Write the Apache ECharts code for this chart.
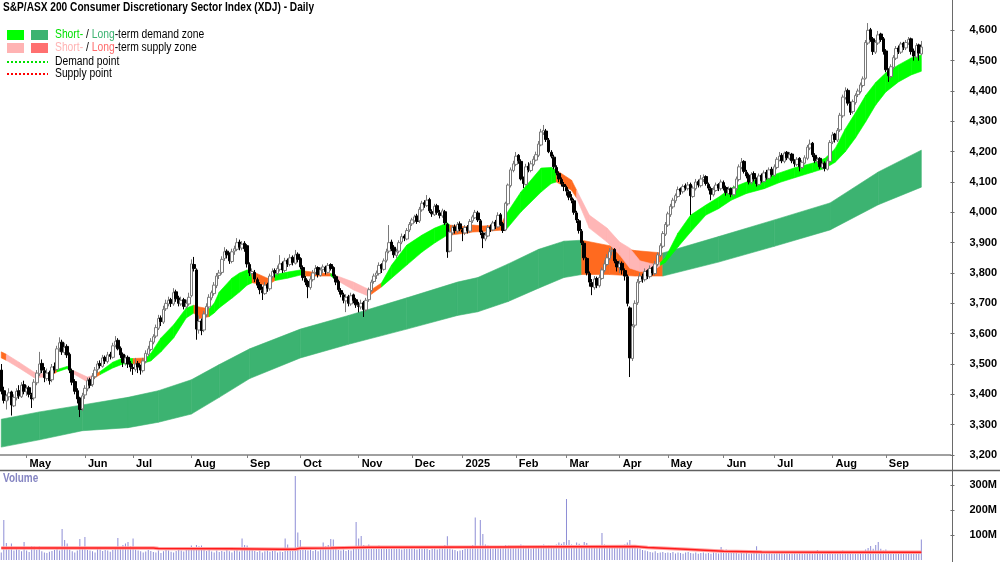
<!DOCTYPE html>
<html>
<head>
<meta charset="utf-8">
<title>XDJ - Daily</title>
<script src="https://cdn.jsdelivr.net/npm/echarts@6.0.0/dist/echarts.min.js"></script>
<style>
  html, body { margin: 0; padding: 0; background: #fff; }
  #chart { width: 1000px; height: 562px; }
</style>
</head>
<body>
<div id="chart"></div>
<script>
var FONT = '"Liberation Sans", Arial, sans-serif';

// trading calendar
var startDate = '2024-04-16', endDate = '2025-09-19';
var holidays = ['2024-04-25', '2024-06-10', '2024-12-25', '2024-12-26', '2025-01-01',
    '2025-01-27', '2025-04-18', '2025-04-21', '2025-04-25', '2025-06-09'];
var padDays = 11;
var monthNames = ['Jan', 'Feb', 'Mar', 'Apr', 'May', 'Jun', 'Jul', 'Aug', 'Sep', 'Oct', 'Nov', 'Dec'];

// tick labels
var priceTicks = [3200, 3300, 3400, 3500, 3600, 3700, 3800, 3900, 4000, 4100, 4200, 4300, 4400, 4500, 4600];
var volTicks = [100, 200, 300];

// daily prices, one row per month
var opens = [
    3480, 3412, 3378, 3392, 3408, 3362, 3388, 3412, 3392, 3432,
    3408, 3422, 3398, 3388, 3438, 3468, 3502, 3478, 3452, 3472, 3448, 3492, 3482, 3552, 3572, 3538, 3558, 3532, 3478, 3442, 3412, 3388, 3352,
    3398, 3418, 3448, 3432, 3458, 3482, 3502, 3492, 3522, 3508, 3532, 3522, 3562, 3578, 3552, 3532, 3502, 3522, 3502,
    3488, 3482, 3502, 3492, 3478, 3508, 3532, 3548, 3572, 3592, 3618, 3652, 3638, 3682, 3698, 3712, 3698, 3738, 3718, 3698, 3712, 3688, 3698,
    3725, 3828, 3810, 3612, 3642, 3612, 3662, 3688, 3718, 3732, 3758, 3792, 3802, 3848, 3872, 3862, 3838, 3872, 3878, 3902, 3882, 3898,
    3890, 3828, 3798, 3802, 3778, 3762, 3742, 3732, 3762, 3748, 3788, 3808, 3798, 3812, 3832, 3808, 3842, 3828, 3852, 3832, 3862,
    3848, 3818, 3782, 3772, 3752, 3778, 3802, 3818, 3792, 3812, 3818, 3802, 3828, 3818, 3788, 3772, 3742, 3728, 3708, 3722, 3698, 3728, 3712,
    3692, 3688, 3702, 3678, 3712, 3742, 3772, 3792, 3798, 3828, 3812, 3842, 3872, 3902, 3885, 3858, 3872, 3902, 3922, 3912, 3942,
    3962, 3972, 3988, 3972, 4008, 4032, 4022, 4042, 4002, 3992, 4022, 3998, 3988, 4002, 3960, 3872, 3932, 3952, 3938, 3962,
    3942, 3932, 3952, 3938, 3972, 3982, 3998, 3972, 3932, 3912, 3922, 3952, 3942, 3968, 3952, 3992, 3962, 3942, 4028, 4088, 4138,
    4158, 4188, 4168, 4112, 4092, 4152, 4138, 4158, 4172, 4188, 4222, 4262, 4268, 4238, 4198, 4182, 4148, 4128, 4108, 4092,
    4082, 4068, 4048, 4038, 3998, 3972, 3938, 3898, 3848, 3798, 3768, 3752, 3782, 3758, 3782, 3808, 3828, 3848, 3872, 3878, 3838,
    3818, 3832, 3808, 3788, 3685, 3518, 3628, 3702, 3772, 3788, 3778, 3808, 3788, 3818, 3798, 3828, 3858, 3888, 3928,
    3958, 3992, 4018, 4038, 4052, 4078, 4068, 4088, 4078, 4092, 4052, 4078, 4102, 4088, 4108, 4118, 4092, 4078, 4058, 4072, 4092, 4078,
    4098, 4082, 4062, 4078, 4058, 4078, 4108, 4148, 4168, 4132, 4122, 4098, 4128, 4108, 4092, 4122, 4102, 4132, 4112, 4142,
    4122, 4148, 4172, 4188, 4168, 4198, 4178, 4192, 4168, 4158, 4178, 4148, 4162, 4178, 4212, 4228, 4188, 4168, 4178, 4148, 4162, 4142, 4168,
    4232, 4258, 4238, 4272, 4318, 4378, 4402, 4358, 4332, 4362, 4388, 4398, 4418, 4442, 4558, 4602, 4572, 4528, 4558, 4588, 4572,
    4532, 4468, 4448, 4478, 4508, 4542, 4528, 4558, 4542, 4558, 4572, 4532, 4512, 4552, 4522
];
var highs = [
    3500, 3425, 3400, 3420, 3412, 3400, 3420, 3430, 3440, 3445,
    3430, 3428, 3405, 3450, 3480, 3540, 3515, 3490, 3485, 3478, 3500, 3505, 3560, 3588, 3580, 3570, 3565, 3538, 3485, 3450, 3420, 3392, 3405,
    3430, 3455, 3455, 3470, 3490, 3510, 3512, 3530, 3528, 3540, 3540, 3570, 3592, 3585, 3558, 3538, 3530, 3528, 3510,
    3500, 3520, 3510, 3498, 3520, 3545, 3560, 3585, 3598, 3630, 3662, 3660, 3692, 3712, 3722, 3718, 3750, 3745, 3725, 3722, 3718, 3712, 3735,
    3845, 3853, 3815, 3660, 3650, 3675, 3700, 3730, 3742, 3770, 3800, 3810, 3855, 3885, 3878, 3868, 3880, 3890, 3915, 3910, 3905, 3905,
    3895, 3835, 3815, 3810, 3785, 3770, 3755, 3770, 3768, 3798, 3815, 3815, 3825, 3859, 3838, 3850, 3848, 3862, 3858, 3876, 3868,
    3852, 3825, 3790, 3778, 3790, 3810, 3826, 3822, 3818, 3828, 3824, 3833, 3832, 3822, 3795, 3778, 3750, 3735, 3730, 3728, 3735, 3732, 3718,
    3705, 3712, 3708, 3718, 3752, 3778, 3798, 3808, 3835, 3832, 3848, 3880, 3958, 3910, 3892, 3880, 3908, 3930, 3928, 3948, 3968,
    3982, 3992, 3995, 4018, 4038, 4040, 4057, 4048, 4010, 4028, 4028, 4008, 4012, 4008, 3965, 3945, 3958, 3960, 3968, 3970,
    3948, 3958, 3958, 3978, 3992, 4008, 4005, 3978, 3940, 3935, 3958, 3960, 3972, 3975, 4000, 3998, 3968, 4035, 4095, 4148, 4170,
    4199, 4192, 4175, 4118, 4160, 4165, 4170, 4185, 4200, 4235, 4275, 4288, 4275, 4245, 4205, 4190, 4155, 4135, 4115, 4100,
    4088, 4075, 4060, 4045, 4005, 3978, 3945, 3905, 3852, 3805, 3780, 3790, 3788, 3795, 3818, 3842, 3862, 3882, 3885, 3882, 3845,
    3842, 3838, 3815, 3795, 3690, 3632, 3710, 3780, 3800, 3798, 3815, 3812, 3825, 3822, 3840, 3868, 3898, 3938, 3968,
    4002, 4028, 4048, 4062, 4085, 4082, 4092, 4095, 4100, 4098, 4088, 4110, 4108, 4123, 4125, 4122, 4098, 4085, 4085, 4098, 4096, 4108,
    4105, 4088, 4085, 4082, 4088, 4118, 4158, 4179, 4172, 4140, 4128, 4132, 4135, 4115, 4128, 4128, 4138, 4140, 4148, 4150,
    4158, 4182, 4199, 4195, 4200, 4202, 4199, 4196, 4175, 4182, 4182, 4172, 4188, 4222, 4240, 4232, 4195, 4182, 4182, 4168, 4168, 4178, 4238,
    4265, 4262, 4278, 4328, 4388, 4412, 4408, 4365, 4372, 4392, 4408, 4428, 4448, 4568, 4624, 4608, 4578, 4568, 4598, 4592, 4578,
    4538, 4475, 4488, 4518, 4548, 4550, 4562, 4562, 4568, 4578, 4576, 4540, 4558, 4556, 4565
];
var lows = [
    3400, 3370, 3350, 3380, 3330, 3358, 3380, 3385, 3388, 3400,
    3395, 3390, 3355, 3380, 3430, 3460, 3470, 3440, 3445, 3432, 3440, 3470, 3478, 3540, 3530, 3530, 3520, 3470, 3430, 3400, 3370, 3325, 3345,
    3385, 3410, 3420, 3425, 3450, 3470, 3485, 3488, 3500, 3502, 3515, 3518, 3555, 3545, 3520, 3490, 3495, 3487, 3475,
    3464, 3475, 3470, 3465, 3472, 3502, 3525, 3542, 3565, 3585, 3612, 3625, 3632, 3675, 3690, 3688, 3692, 3705, 3690, 3692, 3680, 3682, 3692,
    3720, 3805, 3580, 3600, 3595, 3605, 3655, 3680, 3710, 3725, 3750, 3780, 3795, 3840, 3848, 3830, 3832, 3860, 3872, 3875, 3875, 3870,
    3818, 3790, 3788, 3770, 3750, 3730, 3711, 3728, 3738, 3742, 3782, 3785, 3792, 3805, 3800, 3802, 3820, 3822, 3825, 3828, 3835,
    3812, 3775, 3760, 3717, 3745, 3772, 3795, 3785, 3788, 3800, 3795, 3798, 3808, 3782, 3760, 3738, 3720, 3700, 3671, 3690, 3692, 3700, 3685,
    3670, 3680, 3655, 3672, 3705, 3738, 3765, 3780, 3792, 3800, 3808, 3835, 3865, 3872, 3850, 3849, 3865, 3895, 3905, 3908, 3935,
    3955, 3965, 3962, 3965, 4002, 4015, 4018, 3998, 3985, 3988, 3992, 3980, 3982, 3958, 3850, 3868, 3925, 3930, 3932, 3938,
    3905, 3925, 3930, 3932, 3965, 3978, 3968, 3925, 3882, 3905, 3918, 3935, 3938, 3945, 3948, 3955, 3932, 3938, 4022, 4082, 4132,
    4152, 4160, 4105, 4080, 4088, 4132, 4132, 4152, 4168, 4182, 4218, 4255, 4232, 4195, 4178, 4142, 4122, 4100, 4085, 4070,
    4055, 4040, 4030, 3992, 3965, 3930, 3892, 3842, 3792, 3755, 3727, 3745, 3750, 3752, 3778, 3802, 3822, 3842, 3858, 3832, 3805,
    3800, 3795, 3775, 3690, 3457, 3510, 3620, 3695, 3765, 3768, 3772, 3780, 3782, 3792, 3792, 3822, 3852, 3882, 3922,
    3952, 3985, 4012, 4030, 4048, 4058, 4062, 4072, 4072, 3991, 4048, 4072, 4082, 4082, 4100, 4088, 4072, 4040, 4052, 4068, 4070, 4072,
    4072, 4055, 4058, 4050, 4052, 4072, 4102, 4142, 4128, 4112, 4092, 4092, 4102, 4085, 4088, 4098, 4098, 4108, 4108, 4118,
    4118, 4142, 4168, 4162, 4162, 4172, 4172, 4162, 4150, 4152, 4135, 4142, 4158, 4172, 4205, 4182, 4162, 4160, 4142, 4142, 4135, 4138, 4162,
    4225, 4230, 4232, 4265, 4312, 4372, 4352, 4321, 4325, 4355, 4380, 4392, 4412, 4438, 4552, 4562, 4519, 4522, 4552, 4562, 4520,
    4462, 4430, 4442, 4472, 4502, 4522, 4522, 4535, 4535, 4552, 4520, 4500, 4508, 4500, 4518
];
var closes = [
    3410, 3380, 3395, 3405, 3365, 3390, 3410, 3395, 3430, 3410,
    3420, 3400, 3385, 3440, 3470, 3500, 3480, 3455, 3470, 3445, 3490, 3480, 3550, 3570, 3540, 3555, 3530, 3480, 3440, 3410, 3385, 3350, 3395,
    3420, 3445, 3430, 3460, 3480, 3500, 3495, 3520, 3510, 3530, 3525, 3560, 3575, 3550, 3530, 3505, 3520, 3500, 3490,
    3485, 3500, 3490, 3480, 3510, 3535, 3550, 3575, 3590, 3620, 3650, 3640, 3680, 3700, 3710, 3700, 3735, 3715, 3700, 3710, 3690, 3700, 3720,
    3830, 3815, 3615, 3640, 3610, 3665, 3690, 3720, 3735, 3760, 3790, 3800, 3845, 3870, 3860, 3840, 3870, 3880, 3900, 3885, 3895, 3880,
    3830, 3800, 3805, 3780, 3760, 3745, 3735, 3760, 3750, 3790, 3805, 3800, 3815, 3830, 3810, 3840, 3830, 3850, 3835, 3860, 3845,
    3820, 3785, 3770, 3755, 3780, 3800, 3815, 3795, 3810, 3820, 3805, 3825, 3815, 3790, 3770, 3745, 3730, 3710, 3720, 3700, 3725, 3710, 3695,
    3690, 3700, 3680, 3710, 3745, 3770, 3790, 3800, 3825, 3815, 3840, 3870, 3900, 3880, 3860, 3870, 3900, 3920, 3915, 3940, 3960,
    3975, 3985, 3970, 4010, 4030, 4025, 4040, 4005, 3995, 4020, 4000, 3990, 4005, 3965, 3870, 3935, 3950, 3940, 3960, 3945,
    3935, 3950, 3940, 3970, 3985, 4000, 3975, 3935, 3915, 3925, 3950, 3945, 3965, 3955, 3990, 3960, 3940, 4030, 4090, 4140, 4160,
    4185, 4170, 4110, 4095, 4150, 4140, 4160, 4175, 4190, 4225, 4265, 4270, 4240, 4200, 4185, 4150, 4130, 4110, 4095, 4085,
    4070, 4050, 4040, 4000, 3975, 3940, 3900, 3850, 3800, 3770, 3755, 3780, 3760, 3785, 3810, 3830, 3850, 3870, 3875, 3840, 3820,
    3830, 3810, 3790, 3700, 3520, 3625, 3700, 3770, 3790, 3780, 3805, 3790, 3815, 3800, 3830, 3860, 3890, 3930, 3960,
    3995, 4020, 4040, 4055, 4075, 4070, 4085, 4080, 4090, 4055, 4080, 4100, 4090, 4110, 4115, 4095, 4080, 4060, 4075, 4090, 4080, 4100,
    4080, 4065, 4075, 4060, 4080, 4110, 4150, 4165, 4135, 4120, 4100, 4125, 4110, 4095, 4120, 4105, 4130, 4115, 4140, 4125,
    4150, 4175, 4185, 4170, 4195, 4180, 4190, 4170, 4160, 4175, 4150, 4165, 4180, 4215, 4225, 4190, 4170, 4175, 4150, 4160, 4145, 4170, 4230,
    4255, 4240, 4270, 4320, 4380, 4400, 4360, 4330, 4365, 4385, 4400, 4420, 4440, 4560, 4600, 4570, 4530, 4560, 4585, 4570, 4530,
    4470, 4450, 4480, 4510, 4540, 4530, 4555, 4545, 4560, 4570, 4530, 4515, 4550, 4525, 4545
];

// daily volume, millions
var volumes = [
    30, 160, 68, 42, 66, 38, 45, 40, 35, 72,
    38, 32, 56, 54, 40, 55, 35, 30, 28, 33, 36, 40, 45, 38, 124, 80, 66, 42, 35, 30, 38, 84, 45,
    92, 40, 38, 35, 30, 45, 42, 36, 40, 38, 33, 40, 50, 88, 45, 60, 66, 72, 55,
    86, 42, 38, 35, 30, 34, 40, 36, 32, 30, 38, 28, 35, 40, 38, 33, 30, 36, 42, 38, 34, 40, 45,
    58, 45, 60, 55, 58, 40, 36, 42, 34, 30, 38, 32, 36, 33, 40, 35, 30, 38, 42, 34, 86, 60,
    58, 45, 40, 36, 32, 38, 30, 35, 40, 33, 36, 38, 30, 34, 32, 86, 62, 38, 40, 336, 110,
    80, 45, 40, 38, 42, 36, 40, 35, 45, 70, 55, 60, 84, 82, 45, 40, 38, 42, 36, 40, 38, 45, 152,
    86, 96, 60, 55, 62, 48, 50, 45, 58, 52, 48, 45, 50, 46, 52, 55, 48, 42, 50, 45, 48,
    50, 46, 42, 48, 45, 52, 44, 40, 46, 50, 42, 48, 55, 60, 95, 48, 42, 40, 35, 38,
    40, 45, 48, 55, 60, 170, 52, 160, 104, 62, 58, 50, 45, 48, 52, 55, 48, 60, 58, 55, 50,
    55, 50, 62, 58, 52, 48, 45, 50, 55, 52, 58, 62, 55, 60, 58, 54, 62, 70, 65, 72,
    244, 80, 62, 58, 70, 65, 60, 72, 68, 60, 55, 52, 58, 50, 108, 62, 55, 50, 48, 52, 55,
    58, 55, 62, 70, 80, 60, 55, 50, 45, 40, 38, 35, 32, 30, 35, 28, 30, 32, 28,
    30, 28, 32, 26, 30, 28, 25, 30, 32, 28, 26, 30, 25, 28, 30, 26, 28, 25, 30, 28, 26, 52,
    40, 42, 38, 40, 35, 28, 25, 30, 26, 28, 24, 26, 28, 55, 25, 27, 24, 26, 28, 25,
    26, 34, 28, 30, 25, 27, 24, 26, 28, 25, 30, 26, 24, 28, 36, 26, 25, 40, 24, 26, 30, 27, 25,
    28, 30, 26, 32, 38, 28, 30, 26, 28, 30, 34, 36, 30, 42, 48, 56, 45, 60, 72, 45, 38,
    42, 35, 30, 28, 32, 26, 30, 28, 25, 27, 30, 28, 26, 30, 82
];
// volume average, read at knots (bar index, millions)
var volAvgIdx = [0, 60, 62, 90, 110, 116, 118, 130, 145, 200, 250, 255, 270, 285, 300, 330, 363];
var volAvg = [48, 48, 46, 45, 43, 43, 47, 48, 51, 52, 54, 50, 43, 35, 32, 31, 31];

// short-term zone edges at knots; state per segment: D demand, S supply, X crossing
var shortIdx = [0, 2, 7, 13, 15, 19, 22, 26, 28, 34, 36, 39, 44, 48, 52, 57, 59, 63, 68, 73, 76, 78, 82, 84, 86, 91, 94, 97, 99, 105,
    108, 113, 118, 120, 126, 130, 132, 139, 144, 146, 150, 154, 160, 166, 171, 176, 177, 184, 186, 190, 197, 199, 205, 213, 217, 219,
    225, 227, 232, 239, 244, 248, 252, 257, 260, 262, 267, 272, 278, 283, 288, 294, 301, 307, 313, 320, 325, 329, 333, 337, 341, 345,
    349, 354, 359, 363];
var shortUpper = [3540, 3532, 3506, 3473, 3468, 3468, 3482, 3492, 3480, 3457, 3462, 3475, 3506, 3520, 3518, 3520, 3535, 3586, 3629,
    3685, 3694, 3688, 3682, 3700, 3737, 3783, 3800, 3810, 3805, 3783, 3795, 3803, 3810, 3806, 3800, 3798, 3792, 3770, 3750, 3745, 3767,
    3826, 3892, 3925, 3948, 3965, 3958, 3952, 3958, 3955, 3958, 3991, 4067, 4146, 4148, 4139, 4106, 4073, 3991, 3948, 3902, 3882, 3840,
    3830, 3835, 3850, 3932, 3991, 4024, 4050, 4080, 4100, 4112, 4130, 4147, 4162, 4178, 4210, 4275, 4328, 4385, 4428, 4460, 4486, 4509, 4519];
var shortLower = [3520, 3512, 3487, 3455, 3456, 3458, 3474, 3485, 3470, 3441, 3450, 3465, 3487, 3500, 3500, 3505, 3510, 3540, 3586,
    3652, 3668, 3650, 3656, 3668, 3685, 3717, 3737, 3760, 3768, 3760, 3775, 3783, 3793, 3790, 3790, 3790, 3778, 3744, 3727, 3730, 3754,
    3783, 3826, 3869, 3899, 3925, 3925, 3932, 3935, 3937, 3941, 3941, 4001, 4067, 4095, 4100, 4073, 4047, 3948, 3902, 3859, 3816, 3805,
    3805, 3825, 3835, 3886, 3935, 3991, 4012, 4040, 4062, 4078, 4098, 4114, 4132, 4145, 4165, 4200, 4245, 4298, 4354, 4397, 4430, 4453, 4465];
var shortState = 'XSSSSXDDSSXDDDXDDDDDXXDDDDDDXXDDDXXDSSSXDDDDDDXXXXXDDDDXXSSSSSSS' + 'DDDDDDDDDDDDDDDDDDDDDD';

// long-term zone edges at knots
var longIdx = [0, 15, 32, 50, 62, 75, 86, 98, 118, 137, 160, 180, 188, 200, 212, 222, 229, 240, 250, 261, 283, 305, 327, 346, 363];
var longUpper = [3318, 3342, 3365, 3390, 3412, 3448, 3498, 3550, 3615, 3660, 3718, 3770, 3785, 3830, 3878, 3905, 3908, 3890, 3874,
    3866, 3920, 3975, 4031, 4133, 4205];
var longLower = [3226, 3250, 3280, 3290, 3308, 3335, 3390, 3452, 3520, 3565, 3615, 3660, 3672, 3706, 3750, 3785, 3795, 3795, 3790,
    3790, 3836, 3888, 3942, 4025, 4083];
var longState = 'DDDDDDDDDDDDDDDDSSSDDDDDD';

var shortColors = {D: '#00ff00', S: '#ffb6b6', X: '#ff6a1f'};
var longColors = {D: '#3cb371', S: '#ff6a1f'};

// build categories
var dates = [], monthLabel = {};
(function () {
    var d = new Date(startDate + 'T00:00:00Z'), end = new Date(endDate + 'T00:00:00Z');
    var lastMonth = d.getUTCMonth();
    while (d <= end) {
        var wd = d.getUTCDay(), s = d.toISOString().slice(0, 10);
        if (wd !== 0 && wd !== 6 && holidays.indexOf(s) < 0) {
            var m = d.getUTCMonth();
            if (m !== lastMonth) monthLabel[dates.length] = m === 0 ? String(d.getUTCFullYear()) : monthNames[m];
            lastMonth = m;
            dates.push(s);
        }
        d.setUTCDate(d.getUTCDate() + 1);
    }
    for (var i = 0; i < padDays; i++) dates.push('pad' + i);
})();

function isMonth(index) { return monthLabel[index] !== undefined; }
function commas(v) { return String(v).replace(/\B(?=(\d{3})+(?!\d))/g, ','); }

var candles = closes.map(function (c, i) { return [opens[i], c, lows[i], highs[i]]; });

function bandData(idx, up, lo) {
    var out = [];
    for (var k = 0; k < idx.length - 1; k++) {
        out.push([idx[k], lo[k], up[k], idx[k + 1], lo[k + 1], up[k + 1]]);
    }
    return out;
}
function bandRender(idx, up, lo, state, colors) {
    return function (params, api) {
        var k = params.dataIndex;
        var pts = [
            api.coord([idx[k], up[k]]),
            api.coord([idx[k + 1], up[k + 1]]),
            api.coord([idx[k + 1], lo[k + 1]]),
            api.coord([idx[k], lo[k]])
        ];
        var c = colors[state.charAt(k)];
        return {type: 'polygon', shape: {points: pts}, style: {fill: c, stroke: c, lineWidth: 0.6}};
    };
}

var chart = echarts.init(document.getElementById('chart'));

var legendFont = {fontSize: 12, fontFamily: FONT};
var option = {
    animation: false,
    backgroundColor: '#ffffff',
    grid: [
        {left: 0, top: 0, width: 953, height: 455},
        {left: 0, top: 471, width: 953, height: 89}
    ],
    xAxis: [
        {
            type: 'category', gridIndex: 0, data: dates, boundaryGap: true,
            axisLine: {show: true, lineStyle: {color: '#a0a0a0', width: 2}},
            axisTick: {show: true, alignWithLabel: true, interval: isMonth, length: 3, lineStyle: {color: '#808080'}},
            axisLabel: {
                show: true, interval: isMonth, align: 'left', margin: 3, padding: [0, 0, 0, 3],
                formatter: function (v, i) { return monthLabel[i] || ''; },
                fontFamily: FONT, fontSize: 11, fontWeight: 'bold', color: '#000'
            },
            splitLine: {show: false}
        },
        {
            type: 'category', gridIndex: 1, data: dates, boundaryGap: true,
            axisLine: {show: false}, axisTick: {show: false}, axisLabel: {show: false}, splitLine: {show: false}
        }
    ],
    yAxis: [
        {
            type: 'value', gridIndex: 0, position: 'right', min: 3200, max: 4700,
            axisLine: {show: false},
            axisTick: {show: true, length: 4, customValues: priceTicks, lineStyle: {color: '#707070'}},
            axisLabel: {
                margin: 19, customValues: priceTicks, formatter: commas,
                fontFamily: FONT, fontSize: 11, fontWeight: 'bold', color: '#000'
            },
            splitLine: {show: false}
        },
        {
            type: 'value', gridIndex: 1, position: 'right', min: 0, max: 356,
            axisLine: {show: false},
            axisTick: {show: true, length: 4, customValues: volTicks, lineStyle: {color: '#707070'}},
            axisLabel: {
                margin: 19, customValues: volTicks, formatter: function (v) { return v + 'M'; },
                fontFamily: FONT, fontSize: 11, fontWeight: 'bold', color: '#000'
            },
            splitLine: {show: false}
        }
    ],
    series: [
        {
            type: 'custom', name: 'long zone', xAxisIndex: 0, yAxisIndex: 0, z: 1,
            renderItem: bandRender(longIdx, longUpper, longLower, longState, longColors),
            encode: {x: [0, 3], y: [1, 2, 4, 5]},
            data: bandData(longIdx, longUpper, longLower)
        },
        {
            type: 'custom', name: 'short zone', xAxisIndex: 0, yAxisIndex: 0, z: 1,
            renderItem: bandRender(shortIdx, shortUpper, shortLower, shortState, shortColors),
            encode: {x: [0, 3], y: [1, 2, 4, 5]},
            data: bandData(shortIdx, shortUpper, shortLower)
        },
        {
            type: 'candlestick', name: 'XDJ', xAxisIndex: 0, yAxisIndex: 0, z: 3,
            barWidth: 3,
            itemStyle: {color: '#ffffff', color0: '#000000', borderColor: '#7a7a7a', borderColor0: '#000000', borderWidth: 1},
            data: candles
        },
        {
            type: 'bar', name: 'Volume', xAxisIndex: 1, yAxisIndex: 1, barWidth: 1,
            itemStyle: {color: '#8e8ed6'},
            data: volumes
        },
        {
            type: 'line', xAxisIndex: 1, yAxisIndex: 1, symbol: 'none', z: 3,
            lineStyle: {color: '#ffa0a0', width: 3.5},
            data: volAvgIdx.map(function (x, i) { return [x, volAvg[i]]; })
        },
        {
            type: 'line', xAxisIndex: 1, yAxisIndex: 1, symbol: 'none', z: 4,
            lineStyle: {color: '#ff1a1a', width: 1.3},
            data: volAvgIdx.map(function (x, i) { return [x, volAvg[i]]; })
        }
    ],
    graphic: [
        {type: 'line', z: 10, shape: {x1: 952.5, y1: 0, x2: 952.5, y2: 562}, style: {stroke: '#6a6a6a', lineWidth: 1}},
        {type: 'line', z: 10, shape: {x1: 0, y1: 470.5, x2: 1000, y2: 470.5}, style: {stroke: '#606060', lineWidth: 1.5}},
        {
            type: 'text', z: 10, x: 3, y: 8, scaleX: 0.845,
            style: {text: 'S&P/ASX 200 Consumer Discretionary Sector Index (XDJ) - Daily', fontSize: 12, fontWeight: 'bold',
                fontFamily: FONT, fill: '#000', verticalAlign: 'middle'}
        },
        {type: 'rect', z: 10, shape: {x: 7, y: 30, width: 17, height: 10}, style: {fill: '#00ff00'}},
        {type: 'rect', z: 10, shape: {x: 31, y: 30, width: 17, height: 10}, style: {fill: '#3cb371'}},
        {type: 'rect', z: 10, shape: {x: 7, y: 43, width: 17, height: 10}, style: {fill: '#ffb3b3'}},
        {type: 'rect', z: 10, shape: {x: 31, y: 43, width: 17, height: 10}, style: {fill: '#ff7070'}},
        {
            type: 'text', z: 10, x: 55, y: 35, scaleX: 0.86,
            style: {
                text: '{g|Short-} / {lg|Long}-term demand zone', fontSize: 12, fontFamily: FONT, fill: '#000', verticalAlign: 'middle',
                rich: {g: Object.assign({fill: '#00e000'}, legendFont), lg: Object.assign({fill: '#3cb371'}, legendFont)}
            }
        },
        {
            type: 'text', z: 10, x: 55, y: 48, scaleX: 0.86,
            style: {
                text: '{p|Short-} / {r|Long}-term supply zone', fontSize: 12, fontFamily: FONT, fill: '#000', verticalAlign: 'middle',
                rich: {p: Object.assign({fill: '#ffb3b3'}, legendFont), r: Object.assign({fill: '#ff6b6b'}, legendFont)}
            }
        },
        {type: 'line', z: 10, shape: {x1: 7, y1: 62, x2: 48, y2: 62}, style: {stroke: '#00e000', lineWidth: 2, lineDash: [2, 2]}},
        {type: 'line', z: 10, shape: {x1: 7, y1: 74, x2: 48, y2: 74}, style: {stroke: '#ff0000', lineWidth: 2, lineDash: [2, 2]}},
        {
            type: 'text', z: 10, x: 55, y: 62, scaleX: 0.86,
            style: {text: 'Demand point', fontSize: 12, fontFamily: FONT, fill: '#000', verticalAlign: 'middle'}
        },
        {
            type: 'text', z: 10, x: 55, y: 74, scaleX: 0.86,
            style: {text: 'Supply point', fontSize: 12, fontFamily: FONT, fill: '#000', verticalAlign: 'middle'}
        },
        {
            type: 'text', z: 10, x: 3, y: 479, scaleX: 0.83,
            style: {text: 'Volume', fontSize: 12, fontWeight: 'bold', fontFamily: FONT, fill: '#8585c2', verticalAlign: 'middle'}
        }
    ]
};

chart.setOption(option);
</script>
</body>
</html>
